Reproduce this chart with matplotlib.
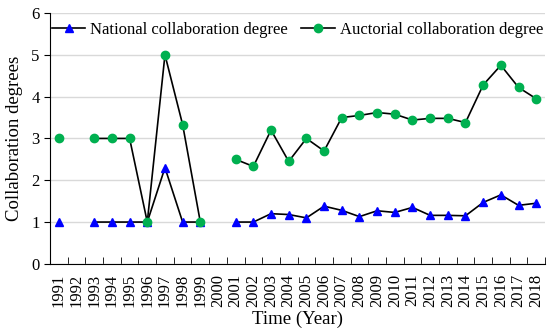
import numpy as np
import matplotlib
matplotlib.use("Agg")
import matplotlib.pyplot as plt

plt.rcParams['font.family'] = ['Liberation Serif', 'DejaVu Serif']

years = [str(y) for y in range(1991, 2019)]
nan = np.nan
national = [1, nan, 1, 1, 1, 1, 2.3, 1, 1, nan, 1, 1, 1.2, 1.18, 1.1, 1.38, 1.28,
            1.13, 1.27, 1.23, 1.35, 1.16, 1.16, 1.15, 1.47, 1.65, 1.4, 1.45]
auctorial = [3, nan, 3, 3, 3, 1, 5, 3.33, 1, nan, 2.5, 2.33, 3.2, 2.45, 3, 2.7, 3.5,
             3.55, 3.62, 3.58, 3.44, 3.48, 3.48, 3.38, 4.28, 4.75, 4.22, 3.95]

fig = plt.figure(figsize=(5.5, 3.34), dpi=100)
ax = fig.add_axes([0.091, 0.21, 0.9, 0.751])

x = np.arange(len(years))
ax.plot(x, national, color='black', lw=1.2, marker='^', markersize=6,
        markerfacecolor='#0000FF', markeredgecolor='#0000FF',
        label='National collaboration degree', zorder=3)
ax.plot(x, auctorial, color='black', lw=1.2, marker='o', markersize=6,
        markerfacecolor='#00B050', markeredgecolor='#00B050',
        label='Auctorial collaboration degree', zorder=3)

ax.set_xlim(-0.5, len(years) - 0.5)
ax.set_ylim(0, 6)
ax.set_yticks(range(0, 7))
ax.set_xticks(x)
ax.set_xticklabels(years, rotation=90)
ax.set_xticks(np.arange(-0.5, len(years)), minor=True)
ax.tick_params(axis='x', which='major', length=0, labelsize=12, pad=7)
ax.tick_params(axis='x', which='minor', direction='in', length=5, color='black')
ax.tick_params(axis='y', direction='out', length=4, labelsize=12)

ax.grid(axis='y', color='#d9d9d9', lw=1)
ax.set_axisbelow(True)
for s in ['top', 'right']:
    ax.spines[s].set_visible(False)
ax.spines['left'].set_color('black')
ax.spines['bottom'].set_color('black')

ax.set_xlabel('Time (Year)', fontsize=13.5, labelpad=3)
ax.set_ylabel('Collaboration degrees', fontsize=13.5, labelpad=6)

ax.legend(loc='upper center', ncol=2, frameon=False, fontsize=12,
          bbox_to_anchor=(0.5, 1.005), handlelength=2.0, handletextpad=0.3,
          columnspacing=0.8, borderaxespad=0.2)

fig.savefig('out.png', dpi=100)
